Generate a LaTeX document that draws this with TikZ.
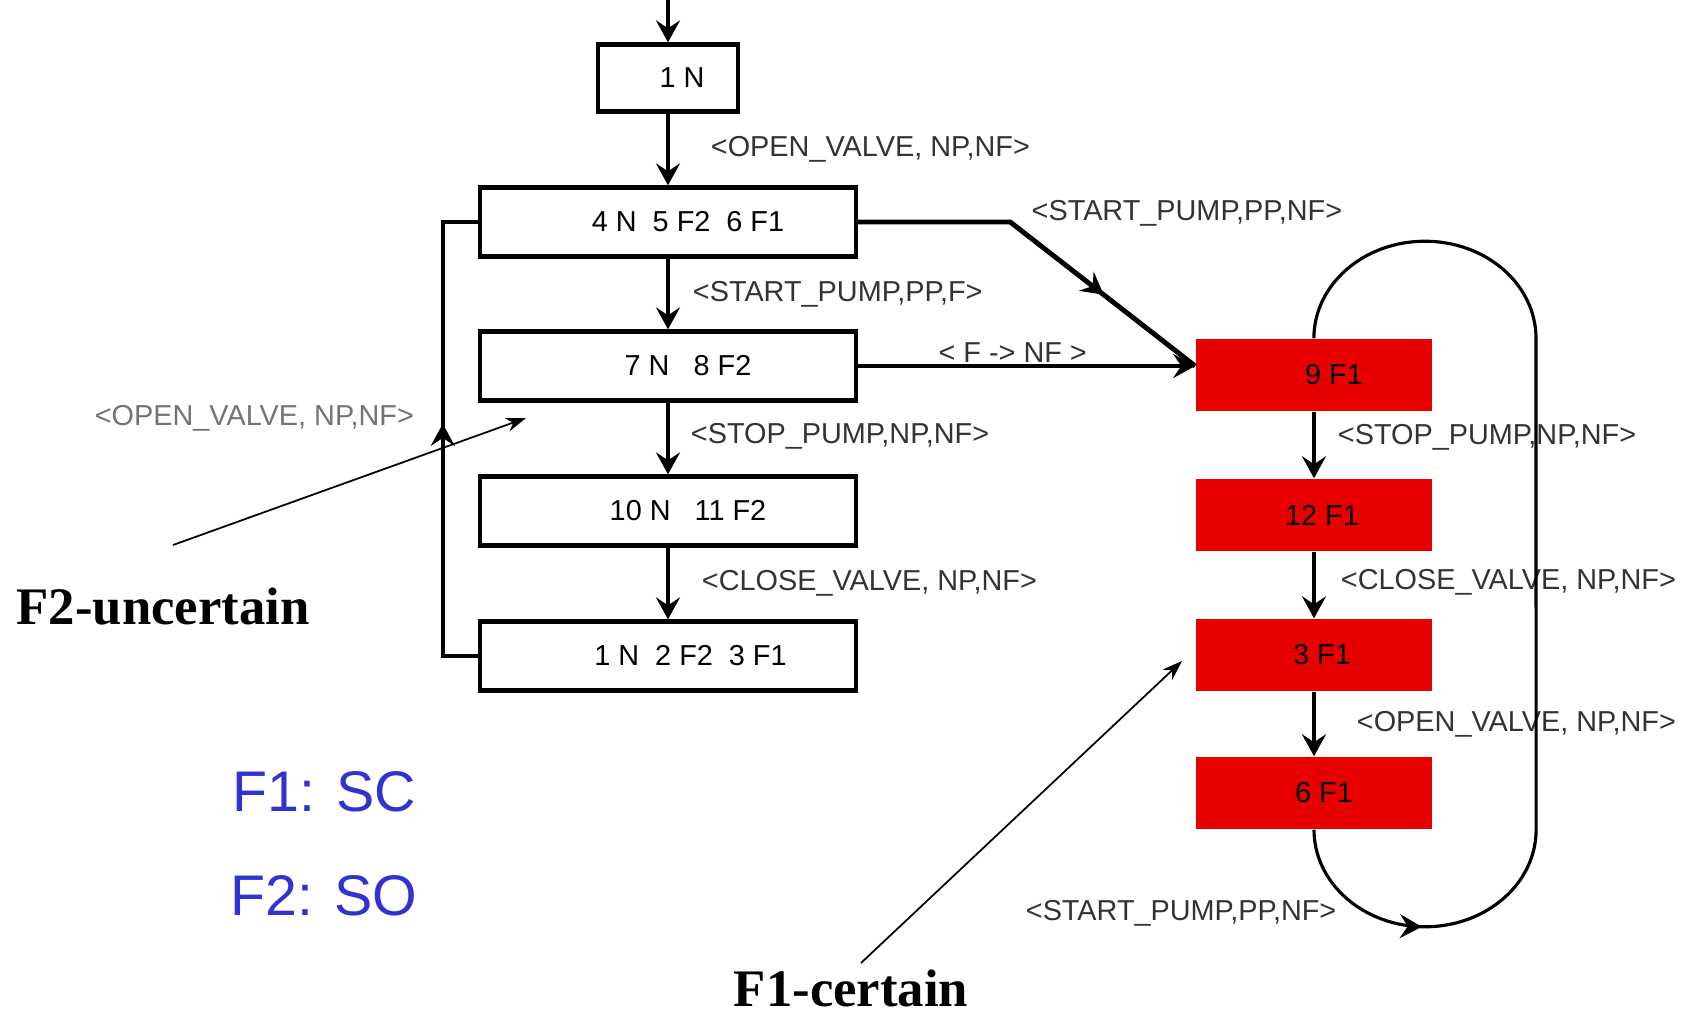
\documentclass[tikz,border=0pt]{standalone}
\usepackage{fontspec}
\setmainfont{Liberation Serif}
\setsansfont{Liberation Sans}
\usetikzlibrary{arrows.meta,decorations.markings,calc}
\definecolor{faultred}{RGB}{232,0,0}
\definecolor{legendblue}{RGB}{50,50,210}

\begin{document}
\begin{tikzpicture}[x=0.01cm, y=-0.01cm,
  nudge/.style={execute at begin node={\hspace*{#1}}},
  state/.style={draw, line width=1.2pt, minimum width=3.76cm, minimum height=0.69cm,
    font=\sffamily\fontsize{8.2}{10}\selectfont},
  fault/.style={fill=faultred, minimum width=2.36cm, minimum height=0.72cm,
    font=\sffamily\fontsize{8.2}{10}\selectfont},
  lbl/.style={inner sep=0pt, anchor=west, text=black!80, font=\sffamily\fontsize{8.2}{10}\selectfont},
  track/.style={line width=1.1pt},
  flow/.style={track, -{Stealth[length=0.22cm,width=0.24cm,inset=0.08cm]}},
  midarr/.style={postaction={decorate}, decoration={markings,
    mark=at position #1 with {\arrow{Stealth[length=0.22cm,width=0.24cm,inset=0.08cm]}}}},
  note/.style={line width=0.5pt, -{Stealth[length=0.2cm,width=0.14cm]}},
  legend/.style={anchor=west, inner sep=0pt, text=legendblue, font=\sffamily\fontsize{16.3}{19}\selectfont},
  remark/.style={inner sep=0pt, font=\bfseries\fontsize{15}{18}\selectfont}]
\useasboundingbox (0,0) rectangle (1693,1015);

% diagnoser states
\node[state, minimum width=1.40cm, minimum height=0.67cm, nudge=0.28cm] (one) at (668,78) {1 N};
\node[state, nudge=0.4cm] (four) at (668,222) {4 N\ \ 5 F2\ \ 6 F1};
\node[state, nudge=0.4cm] (seven) at (668,366) {7 N\ \ \ 8 F2};
\node[state, nudge=0.4cm] (ten) at (668,511) {10 N\ \ \ 11 F2};
\node[state, nudge=0.45cm] (back) at (668,656) {1 N\ \ 2 F2\ \ 3 F1};

\node[fault, nudge=0.4cm] (nine) at (1314,375) {9 F1};
\node[fault, nudge=0.16cm] (twelve) at (1314,515) {12 F1};
\node[fault, nudge=0.16cm] (three) at (1314,655) {3 F1};
\node[fault, nudge=0.2cm] (six) at (1314,793) {6 F1};

\coordinate (entry) at (668,0);
\coordinate (join) at (nine.west |- seven.east);

\draw[flow] (entry) -- (one);
\draw[flow] (one) -- node[lbl, xshift=0.41cm] {<OPEN\_VALVE, NP,NF>} (four);
\draw[flow] (four) -- node[lbl, xshift=0.23cm] {<START\_PUMP,PP,F>} (seven);
\draw[flow] (seven) -- node[lbl, xshift=0.21cm, yshift=0.02cm] {<STOP\_PUMP,NP,NF>} (ten);
\draw[flow] (ten) -- node[lbl, xshift=0.32cm] {<CLOSE\_VALVE, NP,NF>} (back);

\draw[track, midarr=0.53] (back.west) -- ++(-35,0) |-
  node[pos=0.25, lbl, anchor=east, text=black!55, xshift=-0.27cm, yshift=0.21cm] {<OPEN\_VALVE, NP,NF>} (four.west);

\draw[track, line width=1.4pt, midarr=0.7] (four.east) -- ++(152,0)
  node[lbl, xshift=0.19cm, yshift=0.09cm] {<START\_PUMP,PP,NF>} -- (join);
\draw[flow] (seven.east) -- node[lbl, anchor=center, xshift=-0.14cm, yshift=0.13cm] {< F -> NF >} (join);

\draw[flow] (nine) -- node[lbl, xshift=0.22cm, yshift=0.08cm] {<STOP\_PUMP,NP,NF>} (twelve);
\draw[flow] (twelve) -- node[lbl, xshift=0.25cm, yshift=0.03cm] {<CLOSE\_VALVE, NP,NF>} (three);
\draw[flow] (three) -- node[lbl, xshift=0.41cm] {<OPEN\_VALVE, NP,NF>} (six);

% self loop of the F1-certain cycle
\draw[line width=0.9pt, midarr=0.14] (six.south)
  arc[start angle=180, end angle=360, x radius=1.11cm, y radius=0.97cm]
  -- ($(nine.north)+(222,0)$)
  arc[start angle=0, end angle=180, x radius=1.11cm, y radius=0.97cm];
\node[lbl, anchor=east] (looplbl) at (1337,913) {<START\_PUMP,PP,NF>};

% remarks
\node[remark, anchor=west] (unc) at (16,607) {F2-uncertain};
\coordinate (unctail) at (173,545);
\coordinate (unctip) at (526,418);
\draw[note] (unctail) -- (unctip);

\node[remark] (cert) at (851,988) {F1-certain};
\coordinate (certtail) at (861,963);
\coordinate (certtip) at (1182,661);
\draw[note] (certtail) -- (certtip);

\node[legend] (fone) at (232,792) {F1: SC};
\node[legend] (ftwo) at (230,896) {F2: SO};
\end{tikzpicture}
\end{document}
